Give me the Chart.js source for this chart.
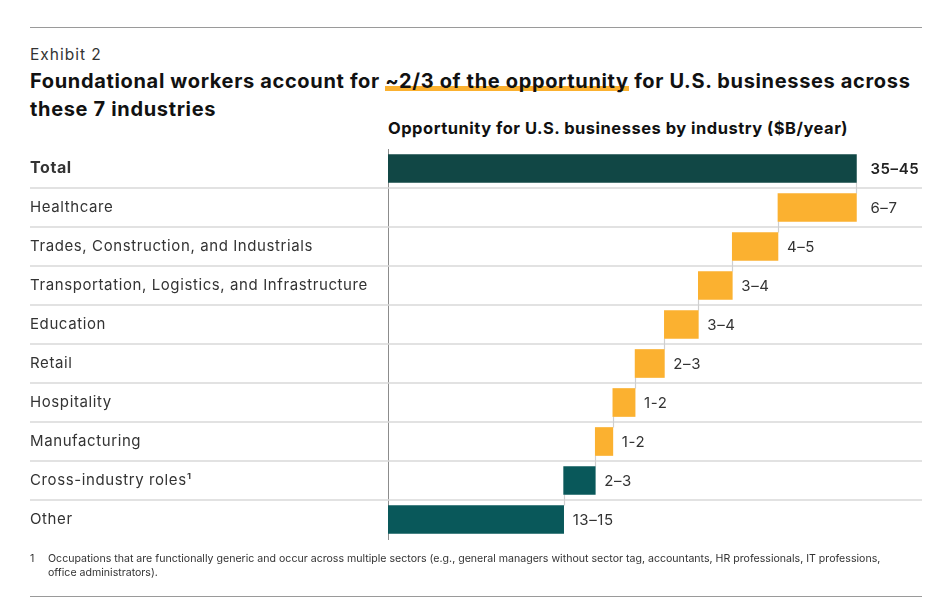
<!DOCTYPE html>
<html>
<head>
<meta charset="utf-8">
<script src="https://cdn.jsdelivr.net/npm/chart.js@4.4.1/dist/chart.umd.min.js"></script>
<style>
  body { margin: 0; background: #fff; font-family: Inter, "Noto Sans", sans-serif; color: #222; }
  .page { position: relative; width: 936px; height: 606px; overflow: hidden; }
  .rule { position: absolute; left: 30px; width: 892px; height: 1px; background: #9a9a9a; }
  #exhibit { position: absolute; left: 30px; top: 46px; font-size: 15.5px; line-height: 18px; letter-spacing: 1px; color: #333; }
  #title { position: absolute; left: 30px; top: 67px; font-size: 20px; font-weight: 700; line-height: 28px; letter-spacing: 0.66px; color: #111; white-space: nowrap; }
  #title .hl {
    background-image: linear-gradient(#fbb130, #fbb130);
    background-repeat: no-repeat;
    background-size: 100% 5px;
    background-position: 0 calc(100% - 2px);
  }
  #subtitle { position: absolute; left: 388px; top: 118px; font-size: 16.5px; font-weight: 700; line-height: 20px; letter-spacing: 0.5px; color: #111; white-space: nowrap; }
  #chartBox { position: absolute; left: 0; top: 0; width: 936px; height: 606px; }
  #foot { position: absolute; left: 30px; top: 552px; font-size: 10.6px; line-height: 13.5px; color: #333; }
  #foot .num { position: absolute; left: 0; top: 0; }
  #foot .txt { position: absolute; left: 18px; top: 0; white-space: nowrap; }
</style>
</head>
<body>
<div class="page">
  <div class="rule" style="top:27px"></div>
  <div id="exhibit">Exhibit 2</div>
  <div id="title">Foundational workers account for <span class="hl">~2/3 of the opportunity</span> for U.S. businesses across<br>these 7 industries</div>
  <div id="subtitle">Opportunity for U.S. businesses by industry ($B/year)</div>
  <div id="chartBox"><canvas id="waterfall"></canvas></div>
  <div id="foot">
    <span class="num">1</span>
    <span class="txt">Occupations that are functionally generic and occur across multiple sectors (e.g., general managers without sector tag, accountants, HR professionals, IT professions,<br>office administrators).</span>
  </div>
  <div class="rule" style="top:596px"></div>
</div>

<script>
// rows, top to bottom
const categories = [
  "Total",
  "Healthcare",
  "Trades, Construction, and Industrials",
  "Transportation, Logistics, and Infrastructure",
  "Education",
  "Retail",
  "Hospitality",
  "Manufacturing",
  "Cross-industry roles¹",
  "Other"
];
// bar lengths, $B/year (midpoint of each range)
const values = [40, 6.7, 3.9, 2.9, 2.9, 2.5, 1.9, 1.5, 2.7, 15];
const rangeLabels = ["35–45", "6–7", "4–5", "3–4", "3–4", "2–3", "1-2", "1-2", "2–3", "13–15"];
const rowKind = ["total", "industry", "industry", "industry", "industry", "industry", "industry", "industry", "other", "other"];

const kindColors = { total: "#114745", industry: "#fbb130", other: "#09585a" };

// stack from the bottom row up, the total row starts at zero
const spans = [];
let running = 0;
for (let i = values.length - 1; i >= 1; i--) {
  spans[i] = [running, running + values[i]];
  running += values[i];
}
spans[0] = [0, values[0]];

const rowExtras = {
  id: "rowExtras",
  beforeDraw(chart) {
    // the source font runs wider than Inter
    chart.ctx.letterSpacing = "0.6px";
  },
  beforeDatasetsDraw(chart) {
    const ctx = chart.ctx;
    const y = chart.scales.y;
    const x = chart.scales.x;
    const meta = chart.getDatasetMeta(0);
    ctx.save();
    // row separators across the full width
    ctx.strokeStyle = "#d9d9d9";
    ctx.lineWidth = 1.5;
    for (let i = 0; i < categories.length - 1; i++) {
      const yy = (y.getPixelForValue(i) + y.getPixelForValue(i + 1)) / 2;
      ctx.beginPath();
      ctx.moveTo(30, yy);
      ctx.lineTo(922, yy);
      ctx.stroke();
    }
    // connectors between consecutive bars
    ctx.strokeStyle = "#cfcfcf";
    ctx.lineWidth = 1.2;
    for (let i = 0; i < categories.length - 1; i++) {
      const upper = meta.data[i];
      const lower = meta.data[i + 1];
      const xx = Math.round(x.getPixelForValue(spans[i + 1][1])) + 0.5;
      ctx.beginPath();
      ctx.moveTo(xx, upper.y + upper.height / 2);
      ctx.lineTo(xx, lower.y - lower.height / 2);
      ctx.stroke();
    }
    ctx.restore();
  },
  afterDatasetsDraw(chart) {
    const ctx = chart.ctx;
    const meta = chart.getDatasetMeta(0);
    ctx.save();
    ctx.letterSpacing = "0.6px";
    ctx.textBaseline = "middle";
    ctx.textAlign = "left";
    meta.data.forEach((bar, i) => {
      // bars ending at the total line get the wider gap
      const gap = spans[i][1] === spans[0][1] ? 14 : 9;
      ctx.font = (i === 0 ? "600 " : "400 ") + "15px Inter, sans-serif";
      ctx.fillStyle = i === 0 ? "#222" : "#333";
      ctx.fillText(rangeLabels[i], bar.x + gap, bar.y + 1);
    });
    ctx.restore();
  }
};

new Chart(document.getElementById("waterfall"), {
  type: "bar",
  data: {
    labels: categories,
    datasets: [{
      data: spans,
      backgroundColor: rowKind.map(k => kindColors[k]),
      borderWidth: 0,
      borderSkipped: false,
      barThickness: 28
    }]
  },
  options: {
    indexAxis: "y",
    responsive: true,
    maintainAspectRatio: false,
    animation: false,
    layout: { padding: { top: 149, bottom: 67, left: 30, right: 14 } },
    plugins: {
      legend: { display: false },
      tooltip: { enabled: false }
    },
    scales: {
      x: { display: false, min: 0, max: 45.6 },
      y: {
        grid: { display: false },
        border: { display: true, color: "#8c8c8c", width: 1 },
        afterFit(scale) { scale.width = 358; },
        ticks: {
          crossAlign: "far",
          padding: 0,
          color: "#333",
          font: (c) => c.index === 0
            ? { family: "Inter", size: 16, weight: "700" }
            : { family: "Inter", size: 15, weight: "400" }
        }
      }
    }
  },
  plugins: [rowExtras]
});
</script>
</body>
</html>
